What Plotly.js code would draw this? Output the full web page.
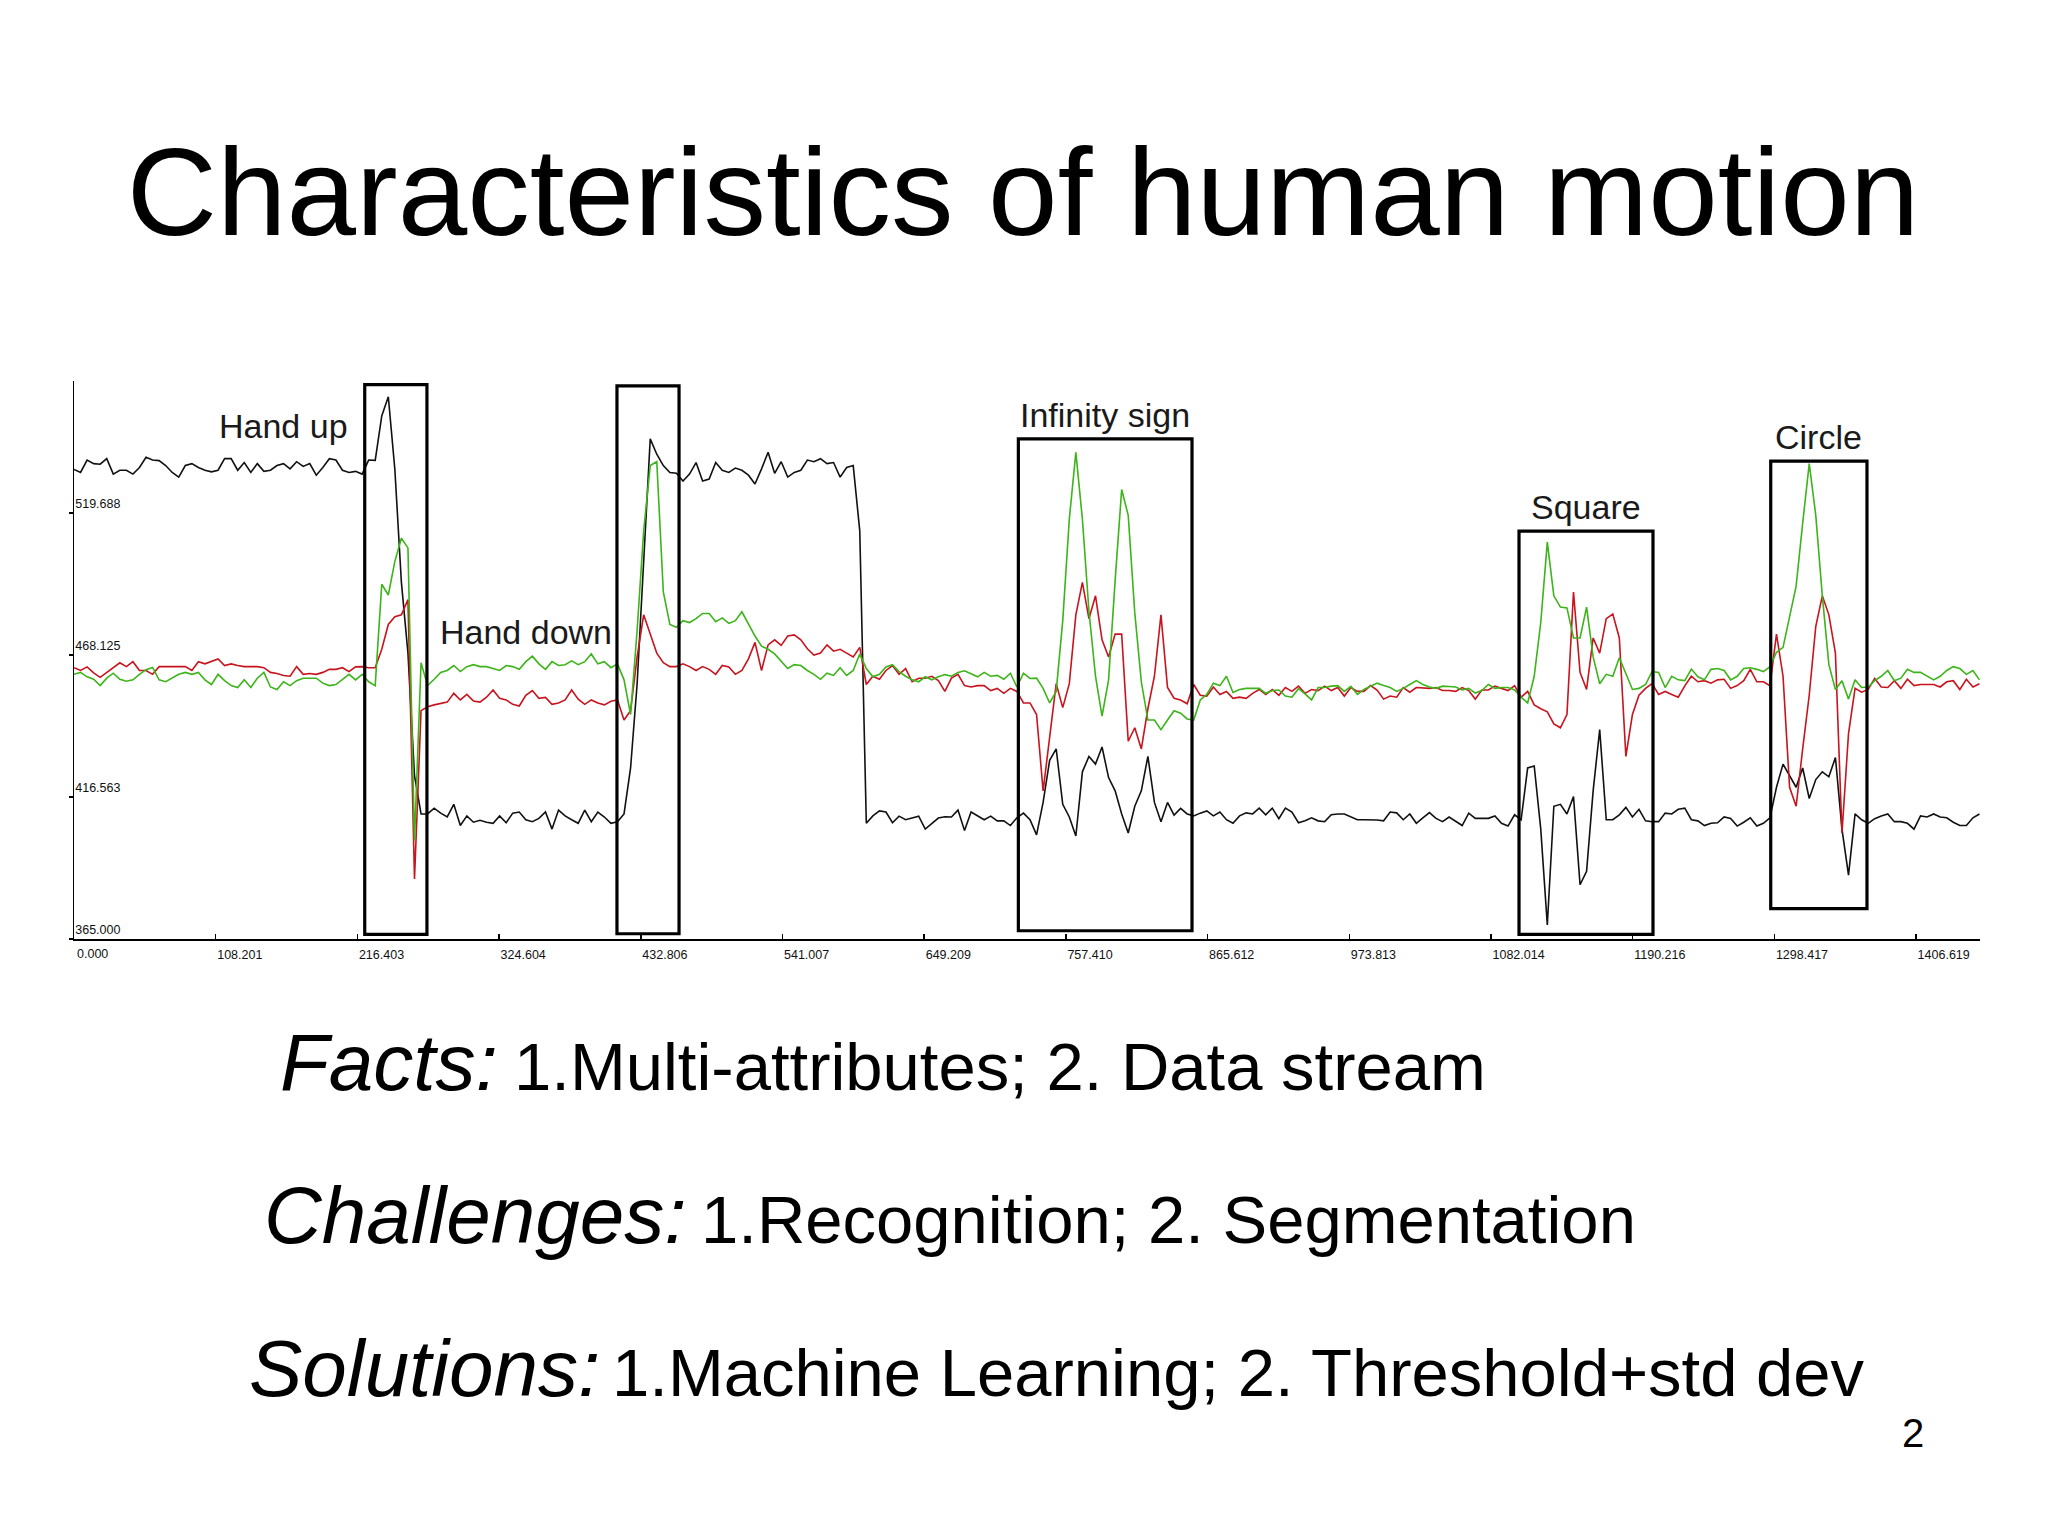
<!DOCTYPE html>
<html>
<head>
<meta charset="utf-8">
<script src="https://cdn.plot.ly/plotly-3.0.1.min.js"></script>
<style>html,body{margin:0;padding:0;background:#fff;}#chart{width:2048px;height:1536px;}</style>
</head>
<body>
<div id="chart"></div>
<script>
// ---------- data ----------
const sampleStart = 0;
const sampleStep = 5;

const blackSeries = [
535.5,534.4,538.9,537.6,537.4,539.4,533.8,535.2,535.2,533.8,
536.2,539.9,538.9,538.7,536.9,534.4,532.7,536.9,537.6,536.2,
535.2,534.6,535.2,539.4,539.4,535.2,538.0,534.4,537.6,534.8,
535.2,536.9,537.6,535.7,538.3,536.6,537.6,533.4,536.2,539.4,
538.9,535.2,534.4,534.8,533.8,538.9,538.8,554.9,561.9,535.5,
494.5,468.8,424.3,410.4,410.4,412.5,410.7,409.3,413.9,406.2,
409.7,407.4,408.1,407.4,407.0,409.7,407.2,410.7,411.1,408.3,
407.6,408.8,411.1,404.9,411.8,409.7,408.3,407.0,411.8,407.6,
411.1,409.3,407.0,407.6,410.4,427.1,457.7,502.1,546.6,541.0,
536.9,534.4,534.1,531.3,533.8,538.0,531.3,532.0,538.0,535.2,
534.4,536.0,535.2,533.4,530.2,535.7,541.7,534.1,538.3,532.7,
534.4,535.2,538.9,538.3,539.4,537.6,538.0,532.7,536.2,536.9,
513.2,407.0,409.7,411.5,411.1,407.2,409.6,408.3,409.0,409.6,
404.9,407.0,408.9,409.4,409.3,411.8,404.4,411.1,409.6,408.3,
409.6,407.9,407.9,406.2,409.0,410.7,408.3,402.8,414.6,429.9,
434.0,413.9,409.3,402.4,425.7,431.3,428.5,434.7,423.6,418.8,
410.4,403.5,413.2,418.8,431.3,414.6,407.6,414.6,410.0,412.4,
410.4,409.7,410.7,411.5,409.7,411.1,408.3,407.0,409.7,410.8,
410.4,412.5,410.1,412.5,408.7,412.5,411.1,407.2,407.9,409.0,
407.9,407.6,410.1,410.4,410.4,409.3,408.3,408.3,408.3,408.2,
407.9,411.1,410.8,408.3,410.4,407.0,409.0,410.9,408.8,407.6,
409.3,407.9,406.2,410.7,408.8,408.8,408.8,409.7,407.0,406.0,
410.1,408.3,427.1,427.8,404.9,370.1,413.2,413.9,410.4,416.7,
384.7,389.6,418.8,441.0,408.3,408.3,410.1,412.8,409.3,412.1,
407.9,407.6,407.6,410.7,410.4,412.1,412.5,408.3,407.9,406.2,
407.0,407.2,409.3,408.8,406.0,407.4,409.0,406.0,407.0,409.0,
420.1,428.5,424.3,420.1,427.1,416.0,422.9,425.7,423.9,430.9,
404.9,388.2,410.4,408.3,407.0,408.7,409.7,410.4,407.6,407.6,
407.0,404.9,409.7,409.3,410.4,409.3,409.0,407.4,406.2,406.2,
409.0,410.4
];

const redSeries = [
463.5,462.5,463.8,461.6,460.0,461.8,463.5,465.3,463.9,465.7,
462.5,462.5,461.1,463.9,463.9,463.9,463.9,463.9,462.5,465.7,
464.9,465.7,466.7,464.3,464.9,464.3,463.9,463.9,463.9,463.5,
461.8,461.4,460.7,460.4,463.9,461.1,461.4,461.1,461.8,462.9,
462.9,463.5,462.1,463.8,463.9,463.5,463.5,470.2,479.2,482.0,
482.7,488.2,386.8,447.9,449.3,450.0,450.4,451.0,454.2,451.8,
453.8,451.4,451.0,452.8,455.4,452.4,451.8,450.2,449.6,453.5,
455.2,452.4,452.7,450.2,450.7,451.8,455.4,452.1,450.2,451.8,
450.7,450.0,451.3,451.8,444.5,447.9,467.4,482.7,475.7,468.8,
465.3,463.9,463.9,464.9,463.9,462.5,463.9,462.9,461.1,464.3,
463.8,461.1,462.5,466.7,472.7,462.5,471.8,473.6,471.6,475.0,
475.4,473.6,470.4,468.1,468.8,471.8,469.5,470.2,468.8,467.4,
470.9,457.4,460.4,459.3,462.5,464.3,461.1,463.2,458.4,459.7,
459.7,460.4,458.8,454.9,459.7,461.1,457.0,456.5,457.0,457.0,
455.2,456.0,454.2,456.0,454.9,450.7,450.7,446.5,418.8,438.2,
457.7,449.0,457.7,482.7,494.5,481.3,489.6,473.6,467.4,475.7,
475.7,436.8,441.7,434.0,448.6,460.4,482.7,456.3,452.4,451.8,
450.4,457.4,453.5,453.2,456.5,453.8,454.9,452.4,452.8,452.4,
454.2,455.6,453.8,455.6,453.5,456.3,454.9,456.8,454.2,455.6,
455.2,456.8,455.2,456.3,453.2,456.3,454.9,454.9,457.0,455.4,
452.1,453.2,452.8,456.3,454.6,456.3,456.1,456.0,456.3,455.2,
455.2,454.9,456.3,455.2,452.1,455.4,455.4,456.8,456.0,455.2,
457.0,452.8,454.9,450.0,448.6,447.5,443.1,441.7,446.5,491.0,
461.8,455.6,474.3,468.8,481.3,483.0,474.3,431.3,446.5,453.5,
456.0,457.7,453.8,454.9,453.8,452.8,456.9,460.4,458.4,458.8,
457.9,459.1,459.3,456.0,457.0,458.8,462.9,458.4,458.4,457.0,
475.7,460.4,420.1,413.2,434.0,453.5,478.5,489.6,482.7,468.8,
403.5,439.6,456.0,454.6,455.6,459.6,456.5,456.3,458.8,456.0,
459.3,457.0,457.4,457.4,457.4,456.5,458.4,458.8,455.6,459.3,
456.5,457.7
];

const greenSeries = [
461.1,461.8,460.2,459.3,457.0,459.7,461.5,459.3,458.6,459.1,
461.1,462.8,463.6,459.1,458.4,459.7,461.1,461.8,461.1,461.8,
459.1,457.4,461.1,458.8,457.0,456.3,459.1,456.3,459.7,461.8,
456.5,455.6,458.4,457.0,458.8,459.7,459.7,459.7,457.9,457.0,
457.4,459.1,461.1,459.1,461.1,458.4,457.0,493.8,489.9,502.1,
510.5,507.0,400.7,465.3,457.0,459.3,461.8,462.5,464.3,462.1,
463.9,464.6,463.9,463.9,463.2,462.5,464.3,463.9,462.9,465.7,
467.7,464.9,462.9,465.7,464.3,464.6,466.0,464.6,465.7,468.5,
464.9,465.7,463.5,464.9,459.1,446.5,477.1,513.2,536.9,538.3,
491.0,479.2,478.2,480.6,479.9,481.3,483.2,483.2,480.2,481.6,
479.6,480.6,483.8,479.2,475.0,471.3,470.2,468.5,465.7,463.2,
464.6,464.3,462.5,461.1,459.3,461.5,460.7,463.5,460.7,462.5,
468.5,463.2,460.2,461.1,463.8,464.6,462.1,460.4,459.1,458.4,
460.2,459.1,460.2,461.0,460.4,461.8,462.4,461.4,460.2,461.8,
460.4,460.7,459.3,461.5,456.5,461.5,459.6,459.7,456.0,450.7,
454.9,480.6,517.4,541.7,517.4,484.1,460.4,445.9,459.1,495.2,
528.2,518.8,483.4,458.4,444.5,444.5,441.0,444.5,447.9,447.0,
444.9,444.5,451.8,453.8,457.9,457.0,460.4,454.5,455.6,456.0,
456.0,456.0,454.2,455.2,455.4,453.2,452.8,455.9,454.0,451.8,
456.3,456.3,456.8,457.0,454.9,456.7,453.8,455.6,456.8,457.9,
457.0,456.3,454.9,456.0,457.4,458.8,457.4,456.5,456.0,456.8,
456.7,456.5,455.4,456.0,454.3,455.2,457.4,456.0,456.3,456.3,
455.4,452.8,450.7,460.4,479.9,509.1,489.6,485.5,485.2,474.3,
474.3,485.5,467.4,457.7,461.1,460.4,467.1,461.1,455.6,456.0,
457.4,462.1,461.8,456.3,460.4,459.1,458.8,463.0,460.2,459.1,
462.9,463.2,462.5,459.1,460.4,463.2,463.5,462.9,462.1,463.9,
469.1,470.9,482.0,493.1,516.0,537.6,518.8,489.6,464.6,455.6,
458.8,452.1,459.1,456.3,456.5,458.8,460.4,462.5,458.8,459.7,
462.9,461.8,461.8,460.4,459.1,460.4,462.5,463.9,463.2,461.1,
462.5,459.1
];

// gesture segments (boxes)
const segLabels = ['Hand up', 'Hand down', 'Infinity sign', 'Square', 'Circle'];
const segStart  = [222.0, 414.6, 721.1, 1103.4, 1295.6];
const segEnd    = [269.5, 462.0, 853.7, 1205.7, 1369.1];
const segTop    = [566.3, 565.8, 546.6, 513.1, 538.5];
const segBottom = [366.7, 366.9, 368.0, 366.7, 376.0];

// axis ticks
const xTickVals = [0, 108.201, 216.403, 324.604, 432.806, 541.007, 649.209, 757.410, 865.612, 973.813, 1082.014, 1190.216, 1298.417, 1406.619];
const xTickText = ['0.000','108.201','216.403','324.604','432.806','541.007','649.209','757.410','865.612','973.813','1082.014','1190.216','1298.417','1406.619'];
const yTickVals = [365.0, 416.563, 468.125, 519.688];
const yTickText = ['365.000','416.563','468.125','519.688'];

const xRange = [0, 1455.4];
const yRange = [365, 567.6];

const slideTitle = 'Characteristics of human motion';
const bulletHeads = ['Facts:', 'Challenges:', 'Solutions:'];
const bulletBodies = ['1.Multi-attributes; 2. Data stream', '1.Recognition; 2. Segmentation', '1.Machine Learning; 2. Threshold+std dev'];
const pageNumber = '2';

// ---------- layout helpers ----------
const W = 2048, H = 1536;
const M = {l: 74, r: 68, t: 381, b: 597, pad: 0};
function P(px, py) {
  return {x: (px - M.l) / (W - M.l - M.r), y: (H - M.b - py) / (H - M.t - M.b)};
}
const FONT = 'Liberation Sans, Arial, sans-serif';

const traces = [
  {y: blackSeries, color: '#111111'},
  {y: redSeries, color: '#c8141e'},
  {y: greenSeries, color: '#3cb41a'}
].map(s => ({
  type: 'scatter', mode: 'lines', x0: sampleStart, dx: sampleStep, y: s.y,
  line: {color: s.color, width: 1.6}, hoverinfo: 'skip', showlegend: false
}));

const shapes = segStart.map((s, i) => ({
  type: 'rect', xref: 'x', yref: 'y', x0: s, x1: segEnd[i], y0: segBottom[i], y1: segTop[i],
  line: {color: '#000', width: 3.2}, fillcolor: 'rgba(0,0,0,0)', layer: 'above'
}));

const annotations = [];
// gesture labels
const labelFont = {family: FONT, size: 34, color: '#1a1a1a'};
annotations.push({xref: 'x', yref: 'y', x: segStart[0], y: 551.3, text: segLabels[0], showarrow: false,
  xanchor: 'right', yanchor: 'middle', xshift: -15, font: labelFont});
annotations.push({xref: 'x', yref: 'y', x: segStart[1], y: 476.4, text: segLabels[1], showarrow: false,
  xanchor: 'right', yanchor: 'middle', xshift: -3, font: labelFont});
for (let i = 2; i < 5; i++) {
  annotations.push({xref: 'x', yref: 'y', x: (segStart[i] + segEnd[i]) / 2, y: segTop[i], text: segLabels[i],
    showarrow: false, xanchor: 'center', yanchor: 'bottom', yshift: 3, font: labelFont});
}

// bullet lines
const headLeft = [278, 262, 247];
const bodyLeft = [512, 699, 610];
const baselines = [1090, 1243, 1396];
const headSize = 80, bodySize = 67;
for (let i = 0; i < 3; i++) {
  const ph = P(headLeft[i], baselines[i] - 0.35 * headSize);
  annotations.push({xref: 'paper', yref: 'paper', x: ph.x, y: ph.y, text: '<i>' + bulletHeads[i] + '</i>',
    showarrow: false, xanchor: 'left', yanchor: 'middle', font: {family: FONT, size: headSize, color: '#000'}});
  const pb = P(bodyLeft[i], baselines[i] - 0.35 * bodySize);
  annotations.push({xref: 'paper', yref: 'paper', x: pb.x, y: pb.y, text: bulletBodies[i],
    showarrow: false, xanchor: 'left', yanchor: 'middle', font: {family: FONT, size: bodySize, color: '#000'}});
}
const pn = P(1913, 1447 - 0.35 * 40);
annotations.push({xref: 'paper', yref: 'paper', x: pn.x, y: pn.y, text: pageNumber, showarrow: false,
  xanchor: 'center', yanchor: 'middle', font: {family: FONT, size: 40, color: '#000'}});

const tickFont = {family: FONT, size: 12.5, color: '#111'};
const layout = {
  width: W, height: H, margin: M,
  paper_bgcolor: '#ffffff', plot_bgcolor: '#ffffff',
  showlegend: false,
  title: {text: slideTitle, font: {family: FONT, size: 125, color: '#000'},
    xref: 'container', yref: 'container', x: 1023 / W, y: 1 - 191 / H, xanchor: 'center', yanchor: 'middle'},
  xaxis: {range: xRange, showgrid: false, zeroline: false, showline: true, linecolor: '#000', linewidth: 1.5,
    ticks: 'inside', ticklen: 5, tickwidth: 1.5, tickcolor: '#000',
    tickmode: 'array', tickvals: xTickVals, ticktext: xTickText, ticklabelposition: 'outside right',
    ticklabeloverflow: 'allow', ticklabelstandoff: 3,
    tickfont: tickFont, fixedrange: true},
  yaxis: {range: yRange, showgrid: false, zeroline: false, showline: true, linecolor: '#000', linewidth: 1.5,
    ticks: 'outside', ticklen: 4, tickwidth: 1.5, tickcolor: '#000',
    tickmode: 'array', tickvals: yTickVals, ticktext: yTickText, ticklabelposition: 'inside top',
    tickfont: tickFont, fixedrange: true},
  shapes: shapes,
  annotations: annotations
};

Plotly.newPlot('chart', traces, layout, {displayModeBar: false, staticPlot: true}).then(gd => {
  // if Plotly suppressed the origin tick label, draw it as a label at the same spot
  const shown = Array.from(document.querySelectorAll('.xtick text')).some(t =>
    t.textContent === xTickText[0] && t.style.display !== 'none' && t.getAttribute('display') !== 'none' &&
    t.style.opacity !== '0');
  if (!shown) {
    Plotly.relayout(gd, {annotations: annotations.concat([{xref: 'x', yref: 'paper', x: xTickVals[0], y: 0,
      text: xTickText[0], showarrow: false, xanchor: 'left', yanchor: 'top', xshift: 1, yshift: -6, font: tickFont}])});
  }
});
</script>
</body>
</html>
